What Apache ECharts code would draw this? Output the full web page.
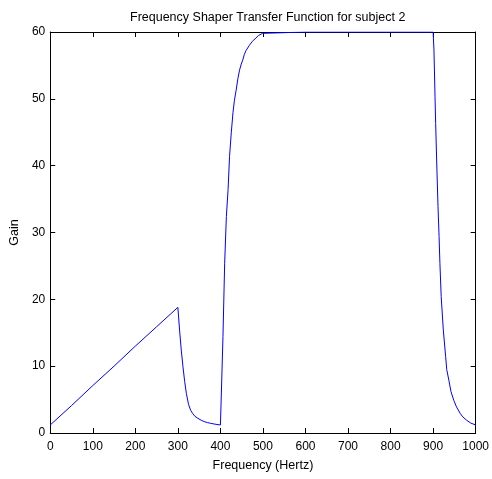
<!DOCTYPE html>
<html>
<head>
<meta charset="utf-8">
<script src="https://cdn.jsdelivr.net/npm/echarts@6/dist/echarts.min.js"></script>
<style>
html,body{margin:0;padding:0;background:#fff;}
#chart{width:492px;height:479px;}
</style>
</head>
<body>
<div id="chart"></div>
<script>
// Linear ramp 0-300 Hz
var rampFreq = [0, 50, 100, 150, 200, 250, 300];
var rampGain = [1.2, 4.1, 7.1, 10.0, 13.0, 15.9, 18.8];
// Decay 300-400 Hz
var decayFreq = [304, 308, 312, 316, 320, 325, 330, 335, 340, 347, 355, 362, 370, 377, 385, 392, 400];
var decayGain = [15.4, 12.4, 9.9, 7.7, 5.9, 4.3, 3.4, 2.9, 2.5, 2.2, 1.9, 1.7, 1.55, 1.45, 1.35, 1.27, 1.2];
// Rise 400-500 Hz
var riseFreq = [402, 406, 410, 414, 418, 421.5, 425.5, 429.5, 433, 437, 441, 445, 449, 452.5, 456, 460, 468, 475, 483.5, 490, 499, 502];
var riseGain = [5.4, 14.4, 25.4, 32.4, 36.4, 41.4, 44.9, 47.9, 49.8, 51.3, 53.0, 54.3, 55.2, 55.8, 56.6, 57.2, 58, 58.6, 59.1, 59.5, 59.8, 60];
// Flat 500-900 Hz
var flatFreq = [600, 700, 800, 900];
var flatGain = [60, 60, 60, 60];
// Fall 900-1000 Hz
var fallFreq = [902, 904.5, 906, 908.5, 911.5, 914, 916, 919, 924, 929.5, 932, 937, 942, 948.5, 955, 964, 970, 979, 988, 1000];
var fallGain = [57.3, 50.3, 46.3, 40.4, 33.9, 29.4, 25.4, 20.4, 15.4, 11.4, 9.5, 7.9, 6.2, 4.9, 3.9, 2.9, 2.4, 1.9, 1.5, 1.2];

var titleText = 'Frequency Shaper Transfer Function for subject 2';
var xName = 'Frequency (Hertz)';
var yName = 'Gain';

function pairs(f, g) { return f.map(function (v, i) { return [v, g[i]]; }); }
var data = [].concat(pairs(rampFreq, rampGain), pairs(decayFreq, decayGain),
  pairs(riseFreq, riseGain), pairs(flatFreq, flatGain), pairs(fallFreq, fallGain));

var font = 'Liberation Sans, Arial, Helvetica, sans-serif';
var axisBase = {
  axisLine: { show: true, onZero: false, lineStyle: { color: '#000', width: 1 } },
  axisTick: { show: true, inside: true, length: 5, lineStyle: { color: '#000', width: 1 } },
  splitLine: { show: false }
};
function plain(v) { return String(v); }

var chart = echarts.init(document.getElementById('chart'), null, { renderer: 'canvas' });
chart.setOption({
  animation: false,
  backgroundColor: '#fff',
  title: {
    text: titleText, left: 262.7, top: 6, textAlign: 'center',
    textStyle: { fontSize: 12.5, fontWeight: 'normal', color: '#000', fontFamily: font }
  },
  grid: { left: 47.7, right: 14.3, top: 32, bottom: 46, containLabel: false },
  xAxis: [
    Object.assign({
      type: 'value', position: 'bottom', min: 0, max: 1000, interval: 100,
      name: xName, nameLocation: 'middle', nameGap: 26,
      nameTextStyle: { fontSize: 12.5, color: '#000', fontFamily: font },
      axisLabel: { fontSize: 12, color: '#000', fontFamily: font, margin: 8, formatter: plain }
    }, axisBase),
    Object.assign({
      type: 'value', position: 'top', min: 0, max: 1000, interval: 100,
      axisLabel: { show: false }
    }, axisBase)
  ],
  yAxis: [
    Object.assign({
      type: 'value', position: 'left', min: 0, max: 60, interval: 10,
      name: yName, nameLocation: 'middle', nameGap: 26,
      nameTextStyle: { fontSize: 12.5, color: '#000', fontFamily: font },
      axisLabel: { fontSize: 12, color: '#000', fontFamily: font, margin: 5, formatter: plain }
    }, axisBase),
    Object.assign({
      type: 'value', position: 'right', min: 0, max: 60, interval: 10,
      axisLabel: { show: false }
    }, axisBase)
  ],
  series: [{
    type: 'line', xAxisIndex: 0, yAxisIndex: 0, data: data,
    showSymbol: false, symbol: 'none', clip: true,
    lineStyle: { color: '#0000ff', width: 1 }
  }]
});
</script>
</body>
</html>
